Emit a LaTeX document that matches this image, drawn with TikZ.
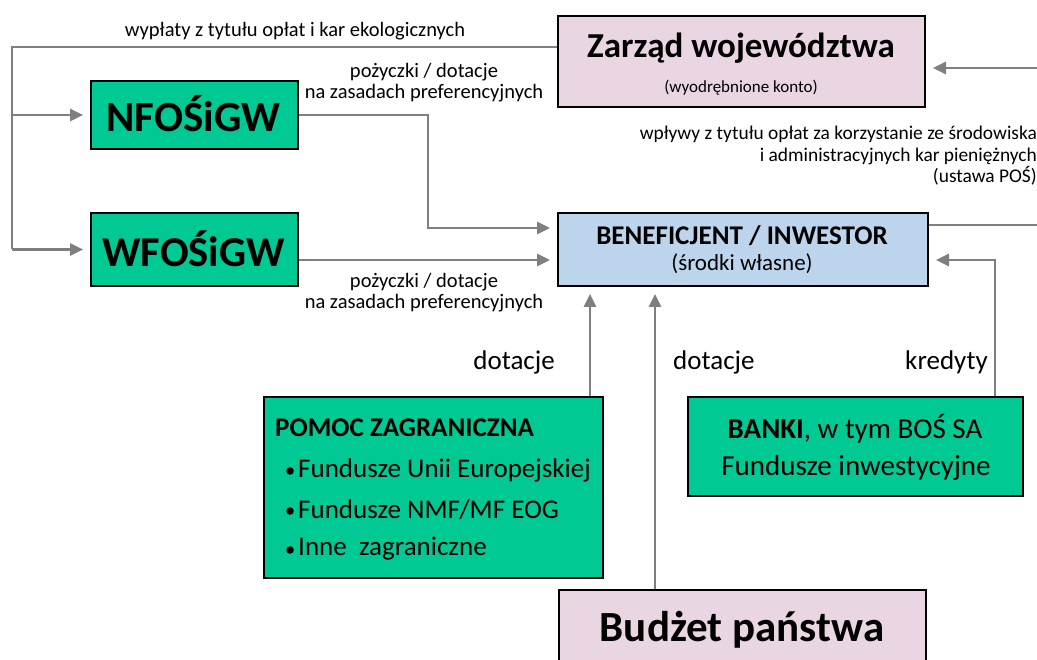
\documentclass[tikz,border=0pt]{standalone}
\usepackage{fontspec}
\setmainfont{Carlito}
\usetikzlibrary{arrows.meta,calc}
\definecolor{boxgreen}{HTML}{00C994}
\definecolor{boxpink}{HTML}{EAD6E2}
\definecolor{boxblue}{HTML}{BCD5EC}
\definecolor{linegray}{HTML}{7F7F7F}
\tikzset{
  box/.style={draw=black,line width=2pt,inner sep=0pt,anchor=north west},
  conn/.style={draw=linegray,line width=2.6pt},
  arr/.style={conn,-{Triangle[length=13pt,width=12pt]},shorten >=7pt},
  lab/.style={inner sep=0pt,font=\fontsize{20.5}{21}\selectfont},
  big/.style={inner sep=0pt,font=\fontsize{27}{28}\selectfont}
}
\begin{document}
\begin{tikzpicture}[x=1pt,y=-1pt]
\useasboundingbox (0,0) rectangle (1037,660);
\clip (0,0) rectangle (1037,660);
% boxes
\node[box,fill=boxpink,minimum width=367pt,minimum height=91pt] (zarzad) at (557,15) {};
\node[inner sep=0pt,font=\fontsize{35}{36}\selectfont\bfseries] (zt) at (741,48) {Zarząd województwa};
\node[inner sep=0pt,font=\fontsize{17}{18}\selectfont] (zs) at (741,88) {(wyodrębnione konto)};

\node[box,fill=boxgreen,minimum width=207pt,minimum height=68pt] (nfos) at (90,80) {};
\node[inner sep=0pt,font=\fontsize{43}{44}\selectfont\bfseries] (nt) at (193.5,114) {NFOŚiGW};

\node[box,fill=boxgreen,minimum width=207pt,minimum height=73pt] (wfos) at (90,212) {};
\node[inner sep=0pt,font=\fontsize{42.5}{44}\selectfont\bfseries] (wt) at (193.5,249) {WFOŚiGW};

\node[box,fill=boxblue,minimum width=370pt,minimum height=73pt] (benef) at (557,212) {};
\node[inner sep=0pt,font=\fontsize{27}{28}\selectfont\bfseries] (bt) at (742,236) {BENEFICJENT / INWESTOR};
\node[inner sep=0pt,font=\fontsize{23}{24}\selectfont] (bs) at (742,264) {(środki własne)};

\node[box,fill=boxgreen,minimum width=339pt,minimum height=181pt] (pomoc) at (263,396) {};
\node[anchor=west,inner sep=0pt,font=\fontsize{27}{28}\selectfont\bfseries] (pt) at (275,428) {POMOC ZAGRANICZNA};
\fill (290,471) circle (3.8pt);
\node[anchor=west,big] (p1) at (298,470) {Fundusze Unii Europejskiej};
\fill (290,511) circle (3.8pt);
\node[anchor=west,big] (p2) at (298,510) {Fundusze NMF/MF EOG};
\fill (290,550) circle (3.8pt);
\node[anchor=west,big] (p3) at (298,549) {Inne\ \ zagraniczne};

\node[box,fill=boxgreen,minimum width=335pt,minimum height=99pt] (banki) at (687,396) {};
\node[inner sep=0pt,font=\fontsize{29}{30}\selectfont] (k1) at (855,429) {\textbf{BANKI}, w tym BOŚ SA};
\node[inner sep=0pt,font=\fontsize{29}{30}\selectfont] (k2) at (856,468) {Fundusze inwestycyjne};

\node[box,fill=boxpink,minimum width=367pt,minimum height=100pt] (budzet) at (558,589) {};
\node[inner sep=0pt,font=\fontsize{43}{44}\selectfont\bfseries] (bu) at (742,630) {Budżet państwa};

% coordinates
\coordinate (L) at (12,47);
\coordinate (nx) at (428,0);
\coordinate (bx) at (995,0);
\coordinate (R1) at (1037,225);
\coordinate (R2) at (1037,68);

% connectors
\draw[conn] (zarzad.west |- L) -- (L) -- (L |- wfos.west);
\draw[arr] (L |- wfos.west) -- (wfos.west);
\draw[arr] (L |- nfos.west) -- (nfos.west);
\draw[arr] (nfos.east) -- (nx |- nfos.east) -- (nx |- 0,228) -- (benef.west |- 0,228);
\draw[arr] (wfos.east |- 0,260) -- (benef.west |- 0,260);
\draw[arr] (pomoc.north -| 590,0) -- (benef.south -| 590,0);
\draw[arr] (budzet.north -| 655,0) -- (benef.south -| 655,0);
\draw[arr] (banki.north -| bx) -- (bx |- 0,260) -- (benef.east |- 0,260);
\draw[conn] (benef.east |- R1) -- (R1);
\draw[arr] (R2) -- (zarzad.east |- R2);

% labels
\node[lab] (l1) at (295,31) {wypłaty z tytułu opłat i kar ekologicznych};
\node[lab,align=center] (l2) at (424,83) {pożyczki / dotacje\\na zasadach preferencyjnych};
\node[lab,align=center] (l3) at (424,293) {pożyczki / dotacje\\na zasadach preferencyjnych};
\node[inner sep=0pt,align=right,anchor=north east,font=\fontsize{19.4}{21.5}\selectfont] (l4) at (1037,126) {wpływy z tytułu opłat za korzystanie ze środowiska\\i administracyjnych kar pieniężnych\\(ustawa POŚ)};
\node[anchor=east,big] (d1) at (555,362) {dotacje};
\node[anchor=west,big] (d2) at (673,362) {dotacje};
\node[anchor=east,big] (d3) at (988,362) {kredyty};
\end{tikzpicture}
\end{document}
